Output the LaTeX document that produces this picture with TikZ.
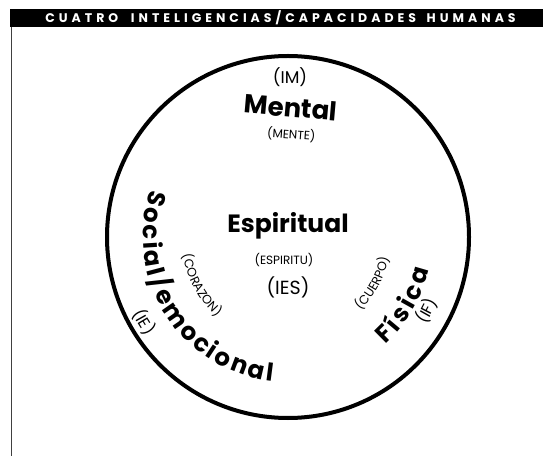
\documentclass[tikz,border=0pt]{standalone}
\usepackage{fontspec}
\setmainfont{Poppins}
\newfontfamily\hdrfont{Poppins}[LetterSpace=32]
\usetikzlibrary{decorations.text}
\newcommand\bigarc{\bfseries\fontsize{24.5}{24.5}\selectfont}
\newcommand\smallarc{\fontsize{12.5}{12.5}\selectfont}
\newcommand\midarc{\fontsize{16}{16}\selectfont}
\tikzset{
  ring/.style={line width=4pt},
  arctext/.style={decorate, decoration={text along path, text={#1}, text align=center}},
  fitarctext/.style={decorate, decoration={text along path, text={#1}, text align=fit to path}},
  label/.style={inner sep=0pt, anchor=base}
}
\begin{document}
\begin{tikzpicture}[x=1pt,y=1pt]
\useasboundingbox (0,0) rectangle (543,458);
\fill[white] (0,0) rectangle (543,458);
% header
\node[fill=black, minimum width=533pt, minimum height=18pt, anchor=north west, inner sep=0pt] (bar) at (10,449) {};
\node[text=white, font=\hdrfont\bfseries\fontsize{12.5}{13}\selectfont] (title) at (280.5,440) {CUATRO\hspace{6pt} INTELIGENCIAS/CAPACIDADES\hspace{4pt} HUMANAS};
\coordinate (lt) at (11.5,431);
\coordinate (lb) at (11.5,2);
\draw[black!75, line width=1pt] (lt) -- (lb);
% circle
\coordinate (C) at (288,221);
\draw[ring] (C) circle[radius=181];
% top
\node[label, font=\fontsize{17}{17}\selectfont] (im) at (290,374) {(IM)};
\node[label, font=\bfseries\fontsize{26}{26}\selectfont, rotate=-5] (mental) at (290,341) {Mental};
\node[label, font=\fontsize{12}{12}\selectfont, rotate=-4] (mente) at (291,319) {(MENTE)};
% centre
\node[label, font=\bfseries\fontsize{25}{25}\selectfont] (esp) at (288,225) {Espiritual};
\node[label, font=\fontsize{12}{12}\selectfont] (espiritu) at (284,193) {(ESPIRITU)};
\node[label, font=\fontsize{19}{19}\selectfont] (ies) at (288,163) {(IES)};
% left arc texts
\path[fitarctext={|\bigarc|Social/emocional}] (C) ++(161:145) arc[start angle=161, end angle=264, radius=145];
\path[arctext={|\smallarc|(CORAZON)}] (C) ++(165:107) arc[start angle=165, end angle=253, radius=107];
\path[arctext={|\midarc|(IE)}] (C) ++(180:173) arc[start angle=180, end angle=241, radius=173];
% right arc texts
\path[fitarctext={|\bigarc|Física}] (C) ++(-48:145) arc[start angle=-48, end angle=-13, radius=145];
\path[arctext={|\smallarc|(CUERPO)}] (C) ++(-72:103) arc[start angle=-72, end angle=15, radius=103];
\path[arctext={|\midarc|(IF)}] (C) ++(-58:163) arc[start angle=-58, end angle=2, radius=163];
\end{tikzpicture}
\end{document}
